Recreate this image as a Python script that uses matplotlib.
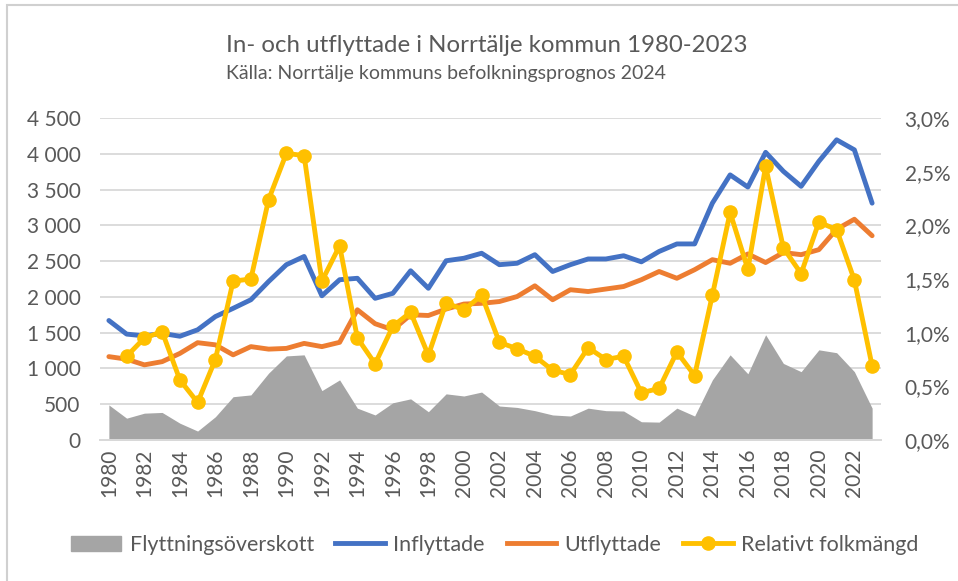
import numpy as np
import matplotlib
matplotlib.use("Agg")
import matplotlib.pyplot as plt
from matplotlib.ticker import FuncFormatter, MultipleLocator
from matplotlib.patches import Rectangle
from matplotlib.lines import Line2D

# Data
years = list(range(1980, 2024))
inflyttade = [1670, 1480, 1455, 1490, 1450, 1540, 1725, 1840, 1960, 2215,
              2450, 2565, 2015, 2240, 2260, 1980, 2050, 2365, 2120, 2505,
              2540, 2610, 2450, 2470, 2590, 2355, 2450, 2530, 2530, 2575,
              2490, 2635, 2740, 2740, 3310, 3705, 3535, 4020, 3755, 3545,
              3895, 4195, 4055, 3310]
utflyttade = [1165, 1130, 1050, 1095, 1210, 1360, 1330, 1190, 1305, 1270,
              1280, 1350, 1305, 1365, 1820, 1625, 1540, 1750, 1740, 1830,
              1900, 1910, 1935, 2005, 2155, 1960, 2100, 2075, 2110, 2145,
              2240, 2355, 2260, 2380, 2520, 2470, 2600, 2480, 2620, 2590,
              2660, 2945, 3085, 2855]
overskott = [490, 305, 375, 385, 235, 125, 325, 605, 630, 935,
             1175, 1190, 690, 840, 445, 350, 520, 575, 395, 645,
             615, 670, 475, 455, 410, 350, 335, 445, 410, 405,
             255, 250, 445, 335, 840, 1190, 925, 1470, 1070, 955,
             1260, 1220, 955, 445]
# relative population change (fraction), no value for 1980
rel_years = years[1:]
relativt = [0.0078, 0.0095, 0.0101, 0.0056, 0.0035, 0.0075, 0.0148, 0.0150, 0.0224,
            0.0267, 0.0265, 0.0148, 0.0181, 0.0095, 0.0071, 0.0106, 0.0119, 0.0079,
            0.0128, 0.0121, 0.0135, 0.0091, 0.0085, 0.0078, 0.0065, 0.0061, 0.0086,
            0.0075, 0.0078, 0.0044, 0.0048, 0.0082, 0.0060, 0.0135, 0.0212, 0.0159,
            0.0255, 0.0179, 0.0155, 0.0203, 0.0196, 0.0149, 0.0069]

GRAY = '#A5A5A5'
BLUE = '#4472C4'
ORANGE = '#ED7D31'
YELLOW = '#FFC000'
TEXT = '#595959'
GRID = '#D9D9D9'

plt.rcParams['font.family'] = ['Lato', 'DejaVu Sans']

fig = plt.figure(figsize=(9.58, 5.81), dpi=100)
# chart frame (left/top edge visible in the reference)
fig.patches.append(Rectangle((7 / 958, -0.1), 1.2, 1.1 - 5 / 581, transform=fig.transFigure,
                             fill=False, edgecolor='#D0D0D0', linewidth=1.5))

ax = fig.add_axes([100 / 958, 1 - 440 / 581, 781 / 958, 322 / 581])
ax2 = ax.twinx()

ax.fill_between(years, overskott, 0, color=GRAY, linewidth=0, zorder=2)
ax.plot(years, inflyttade, color=BLUE, linewidth=3.5, solid_capstyle='round', zorder=3)
ax.plot(years, utflyttade, color=ORANGE, linewidth=3.5, solid_capstyle='round', zorder=3)
ax2.plot(rel_years, relativt, color=YELLOW, linewidth=3.5, marker='o', markersize=9.5,
         solid_capstyle='round', zorder=4)

ax.set_xlim(1979.5, 2023.5)
ax.set_ylim(0, 4500)
ax2.set_ylim(0, 0.03)
ax.yaxis.set_major_locator(MultipleLocator(500))
ax2.yaxis.set_major_locator(MultipleLocator(0.005))
ax.yaxis.set_major_formatter(FuncFormatter(lambda v, p: f'{int(v):,}'.replace(',', ' ')))
ax2.yaxis.set_major_formatter(FuncFormatter(lambda v, p: f'{v * 100:.1f}%'.replace('.', ',')))

ax.set_xticks(years[::2])
ax.set_xticklabels([str(y) for y in years[::2]], rotation=90)

ax.grid(axis='y', color=GRID, linewidth=1.3, zorder=0)
ax.set_axisbelow(True)
for a in (ax, ax2):
    for s in ('left', 'right', 'top'):
        a.spines[s].set_visible(False)
    a.spines['bottom'].set_color(GRID)
    a.spines['bottom'].set_linewidth(1.3)
    a.tick_params(length=0, colors=TEXT, labelsize=15)
ax.tick_params(axis='y', pad=14)
ax2.tick_params(axis='y', pad=17)
ax.tick_params(axis='x', pad=6)

fig.text(226 / 958, 1 - 45 / 581, 'In- och utflyttade i Norrtälje kommun 1980-2023',
         color=TEXT, fontsize=17.3, va='center', ha='left')
fig.text(226 / 958, 1 - 73 / 581, 'Källa: Norrtälje kommuns befolkningsprognos 2024',
         color=TEXT, fontsize=14, va='center', ha='left')

handles = [Rectangle((0, 0), 1, 1, color=GRAY),
           Line2D([], [], color=BLUE, linewidth=3.5),
           Line2D([], [], color=ORANGE, linewidth=3.5),
           Line2D([], [], color=YELLOW, linewidth=3.5, marker='o', markersize=9.5)]
labels = ['Flyttningsöverskott', 'Inflyttade', 'Utflyttade', 'Relativt folkmängd']
leg = fig.legend(handles, labels, loc='center', bbox_to_anchor=(495 / 958, 1 - 545 / 581),
                 ncol=4, frameon=False, fontsize=15.5, handlelength=2.3, handletextpad=0.4,
                 columnspacing=1.0)
for t in leg.get_texts():
    t.set_color(TEXT)

fig.savefig('out.png', dpi=100)
